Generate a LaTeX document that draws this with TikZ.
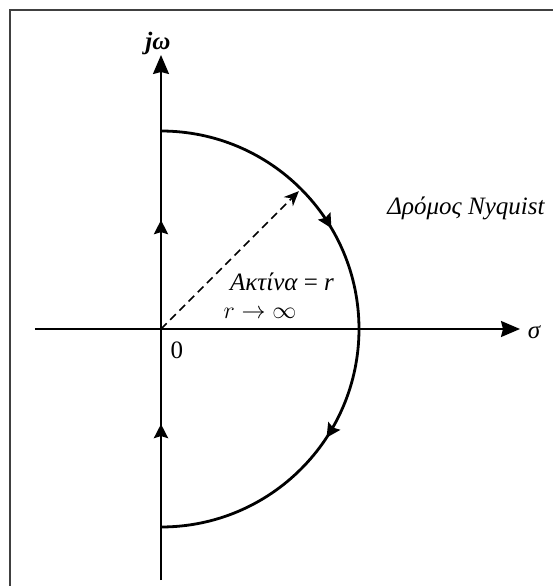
\documentclass[tikz,border=0pt]{standalone}
\usepackage{fontspec}
\setmainfont{Liberation Serif}
\usepackage{tikz}
\usetikzlibrary{arrows.meta, decorations.markings}

\tikzset{
  axis/.style={line width=0.9pt, -{Stealth[length=9.5pt, width=8pt, inset=1pt]}},
  contour/.style={line width=1.4pt},
  twomarks/.style 2 args={postaction={decorate}, decoration={markings,
      mark=at position #1 with {\arrow{Stealth[length=7pt, width=7pt, inset=1pt]}},
      mark=at position #2 with {\arrow{Stealth[length=7pt, width=7pt, inset=1pt]}}}},
  lbl/.style={inner sep=0pt, font=\itshape\fontsize{12.5}{15}\selectfont}
}

\begin{document}
\begin{tikzpicture}[x=0.5pt, y=0.5pt]
\useasboundingbox (-161,-257) rectangle (392,329);

% frame
\draw[line width=1pt, black!75] (-151,-257) -- (-151,319) -- (392,319);

\coordinate (O) at (0,0);
\coordinate (xstart) at (-126,0);
\coordinate (xend) at (359,0);
\coordinate (ystart) at (0,-251);
\coordinate (yend) at (0,274);
\coordinate (top) at (0,198);
\coordinate (bot) at (0,-198);
\coordinate (rad) at (45:195);

% axes
\draw[axis] (xstart) -- (xend);
\draw[axis] (ystart) -- (yend);
\node[lbl] (jw) at (-3,286) {\bfseries jω};
\node[lbl] (sigma) at (373,-3) {σ};
\node[lbl, font=\fontsize{12.5}{15}\selectfont] (zero) at (16,-21) {0};

% Nyquist path
\draw[contour, twomarks={0.26}{0.775}] (bot) -- (top);
\draw[contour, twomarks={0.33}{0.685}] (top) arc[start angle=90, end angle=-90, radius=198];
\draw[line width=0.8pt, dash pattern=on 4pt off 2.5pt, -{Stealth[length=7.5pt, width=6.5pt]}] (O) -- (rad);

\node[lbl] (radius) at (121,47) {Ακτίνα \upshape= \itshape r};
\node[lbl] (limit) at (99,16) {$r \rightarrow \infty$};
\node[lbl] (name) at (305,121) {Δρόμος Nyquist};
\end{tikzpicture}
\end{document}
